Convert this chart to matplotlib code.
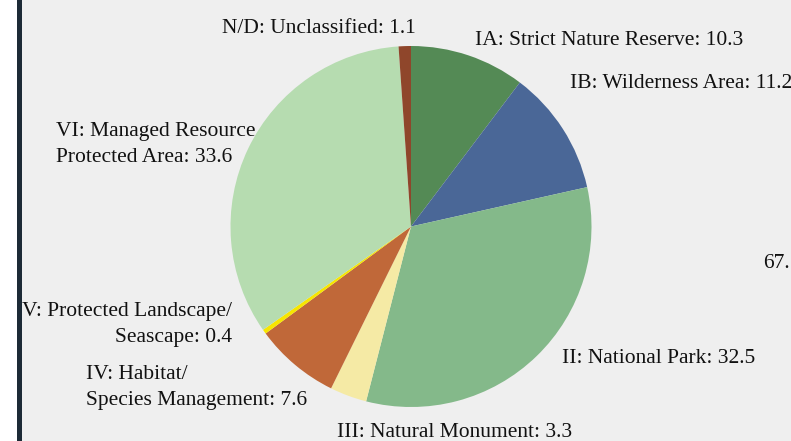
import matplotlib.pyplot as plt
from matplotlib.patches import Rectangle

W, H = 791, 441

categories = ['IA: Strict Nature Reserve', 'IB: Wilderness Area', 'II: National Park',
              'III: Natural Monument', 'IV: Habitat/\nSpecies Management',
              'V: Protected Landscape/\nSeascape', 'VI: Managed Resource\nProtected Area',
              'N/D: Unclassified']
values = [10.3, 11.2, 32.5, 3.3, 7.6, 0.4, 33.6, 1.1]
colors = ['#548a55', '#4a6797', '#84b98a', '#f5eaa5', '#c06839', '#f7e600', '#b6dcb0', '#8f462b']

# label placement in pixels: (x, baseline y of last line, horizontal alignment)
label_pos = [(475, 45, 'left'), (570, 88, 'left'), (562, 363, 'left'), (572, 437, 'right'),
             (86, 405, 'left'), (232, 342, 'right'), (56, 162, 'left'), (222, 33, 'left')]

plt.rcParams['font.family'] = ['Liberation Serif', 'DejaVu Serif']

fig = plt.figure(figsize=(W / 100, H / 100), dpi=100, facecolor='white')
fig.patches.append(Rectangle((22 / W, 0), 1, 1, transform=fig.transFigure,
                             facecolor='#efefef', edgecolor='none', zorder=-2))
fig.patches.append(Rectangle((17 / W, 0), 5 / W, 1, transform=fig.transFigure,
                             facecolor='#1c2a36', edgecolor='none', zorder=-2))

cx, cy, r = 411, 226.5, 180.5
ax = fig.add_axes([(cx - r) / W, (H - cy - r) / H, 2 * r / W, 2 * r / H])
ax.pie(values, colors=colors, startangle=90, counterclock=False, radius=1,
       wedgeprops={'linewidth': 0})
ax.set_xlim(-1, 1)
ax.set_ylim(-1, 1)
ax.axis('off')

fs = 15.5
for name, v, (x, y, ha) in zip(categories, values, label_pos):
    txt = '%s: %s' % (name, v)
    fig.text(x / W, 1 - y / H, txt, ha=ha, va='baseline', fontsize=fs,
             multialignment=ha, linespacing=1.52, color='#111111')

fig.text(763 / W, 1 - 268 / H, '67.', ha='left', va='baseline', fontsize=fs, color='#111111')

fig.savefig('out.png', dpi=100, facecolor=fig.get_facecolor())
